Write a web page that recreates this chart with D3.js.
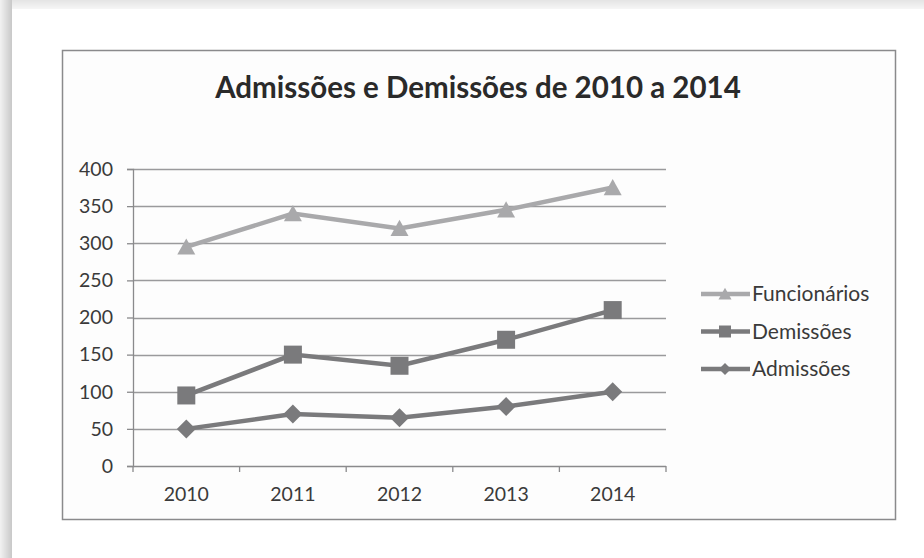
<!DOCTYPE html>
<html>
<head>
<meta charset="utf-8">
<script src="https://cdn.jsdelivr.net/npm/d3@7"></script>
<style>
  body { margin: 0; background: #fff; }
  svg { display: block; }
</style>
</head>
<body>
<div id="chart"></div>
<script>
var anos = ['2010', '2011', '2012', '2013', '2014'];
var funcionarios = [295, 340, 320, 345, 375];
var demissoes = [95, 150, 135, 170, 210];
var admissoes = [50, 70, 65, 80, 100];
var yTicks = [0, 50, 100, 150, 200, 250, 300, 350, 400];

var series = [
    {nome: 'Funcionários', valores: funcionarios, cor: '#a9a9ab', forma: 'triangle'},
    {nome: 'Demissões', valores: demissoes, cor: '#7a7a7c', forma: 'square'},
    {nome: 'Admissões', valores: admissoes, cor: '#7a7a7c', forma: 'diamond'}
];

var w = 924, h = 558;
var font = 'Lato, "Open Sans", sans-serif';

var svg = d3.select('#chart').append('svg')
    .attr('width', w)
    .attr('height', h);

// sombra da pagina
var defs = svg.append('defs');
var gTop = defs.append('linearGradient').attr('id', 'sTop').attr('x1', 0).attr('y1', 0).attr('x2', 0).attr('y2', 1);
gTop.append('stop').attr('offset', 0).attr('stop-color', '#e4e4e4');
gTop.append('stop').attr('offset', 1).attr('stop-color', '#f6f6f6');
var gLeft = defs.append('linearGradient').attr('id', 'sLeft').attr('x1', 0).attr('y1', 0).attr('x2', 1).attr('y2', 0);
gLeft.append('stop').attr('offset', 0).attr('stop-color', '#f2f2f2');
gLeft.append('stop').attr('offset', 1).attr('stop-color', '#c8c8c8');

svg.append('rect').attr('x', 0).attr('y', 0).attr('width', w).attr('height', 9).attr('fill', 'url(#sTop)');
svg.append('rect').attr('x', 0).attr('y', 0).attr('width', 12).attr('height', h).attr('fill', 'url(#sLeft)');

// moldura do grafico
svg.append('rect')
    .attr('x', 62.5).attr('y', 50.5)
    .attr('width', 833).attr('height', 469)
    .attr('fill', '#fdfdfd')
    .attr('stroke', '#8a8a8c')
    .attr('stroke-width', 1.5);

svg.append('text')
    .text('Admissões e Demissões de 2010 a 2014')
    .attr('x', 478)
    .attr('y', 98)
    .attr('text-anchor', 'middle')
    .attr('font-family', font)
    .attr('font-weight', 'bold')
    .attr('font-size', '29.5px')
    .attr('fill', '#2a2a2a');

var plotLeft = 133, plotRight = 666, plotTop = 169, plotBottom = 466;

var xscale = d3.scaleBand()
    .domain(anos)
    .range([plotLeft, plotRight]);

var yscale = d3.scaleLinear()
    .domain([0, 400])
    .range([plotBottom, plotTop]);

// grade
svg.append('g')
    .selectAll('line')
    .data(yTicks.slice(1))
    .enter()
    .append('line')
    .attr('x1', plotLeft)
    .attr('x2', plotRight)
    .attr('y1', function (d) { return Math.round(yscale(d)) + 0.5; })
    .attr('y2', function (d) { return Math.round(yscale(d)) + 0.5; })
    .attr('stroke', '#9a9a9c')
    .attr('stroke-width', 1.3);

var yAxis = d3.axisLeft(yscale)
    .tickValues(yTicks)
    .tickSize(6)
    .tickPadding(14);
var yg = svg.append('g')
    .attr('transform', 'translate(' + plotLeft + ',0)')
    .call(yAxis);

var xAxis = d3.axisBottom(xscale)
    .tickSize(0)
    .tickPadding(21);
var xg = svg.append('g')
    .attr('transform', 'translate(0,' + plotBottom + ')')
    .call(xAxis);

// marcas entre categorias no eixo x
var bordas = [plotLeft].concat(anos.map(function (a) { return xscale(a) + xscale.bandwidth(); }));
xg.selectAll('.sep')
    .data(bordas)
    .enter()
    .append('line')
    .attr('class', 'sep')
    .attr('x1', function (d) { return d; })
    .attr('x2', function (d) { return d; })
    .attr('y1', 0)
    .attr('y2', 6)
    .attr('stroke', '#8a8a8c')
    .attr('stroke-width', 1.3);

[yg, xg].forEach(function (g) {
    g.select('.domain').attr('stroke', '#8a8a8c').attr('stroke-width', 1.3);
    g.selectAll('.tick line').attr('stroke', '#8a8a8c').attr('stroke-width', 1.3);
    g.selectAll('text')
        .attr('font-family', font)
        .attr('font-size', '19.5px')
        .attr('fill', '#3a3a3a');
});
xg.select('.domain').attr('d', 'M' + plotLeft + ',0.5H' + plotRight);

var line = d3.line()
    .x(function (d, i) { return xscale(anos[i]) + xscale.bandwidth() / 2; })
    .y(function (d) { return yscale(d); });

// simbolos no estilo do Excel (size = meia largura)
var tipos = {
    triangle: {draw: function (c, r) { c.moveTo(0, -r * 0.95); c.lineTo(r, r * 0.85); c.lineTo(-r, r * 0.85); c.closePath(); }},
    square: {draw: function (c, r) { c.rect(-r, -r, 2 * r, 2 * r); }},
    diamond: {draw: function (c, r) { c.moveTo(0, -r); c.lineTo(r, 0); c.lineTo(0, r); c.lineTo(-r, 0); c.closePath(); }}
};
var tamanhos = {triangle: 9, square: 9, diamond: 9.5};
var tamLegenda = {triangle: 6.5, square: 6, diamond: 6};

series.forEach(function (s) {
    var g = svg.append('g');
    g.append('path')
        .attr('d', line(s.valores))
        .attr('fill', 'none')
        .attr('stroke', s.cor)
        .attr('stroke-width', 4.5);
    g.selectAll('path.m')
        .data(s.valores)
        .enter()
        .append('path')
        .attr('class', 'm')
        .attr('d', d3.symbol().type(tipos[s.forma]).size(tamanhos[s.forma]))
        .attr('transform', function (d, i) {
            return 'translate(' + (xscale(anos[i]) + xscale.bandwidth() / 2) + ',' + yscale(d) + ')';
        })
        .attr('fill', s.cor);
});

// legenda
var leg = svg.append('g');
series.forEach(function (s, i) {
    var y = 294 + i * 37.5;
    var g = leg.append('g').attr('transform', 'translate(0,' + y + ')');
    g.append('line')
        .attr('x1', 701).attr('x2', 750)
        .attr('y1', 0).attr('y2', 0)
        .attr('stroke', s.cor)
        .attr('stroke-width', 4.5);
    g.append('path')
        .attr('d', d3.symbol().type(tipos[s.forma]).size(tamLegenda[s.forma]))
        .attr('transform', 'translate(725,0)')
        .attr('fill', s.cor);
    g.append('text')
        .text(s.nome)
        .attr('x', 752)
        .attr('y', 7)
        .attr('font-family', font)
        .attr('font-size', '21px')
        .attr('fill', '#3a3a3a');
});
</script>
</body>
</html>
